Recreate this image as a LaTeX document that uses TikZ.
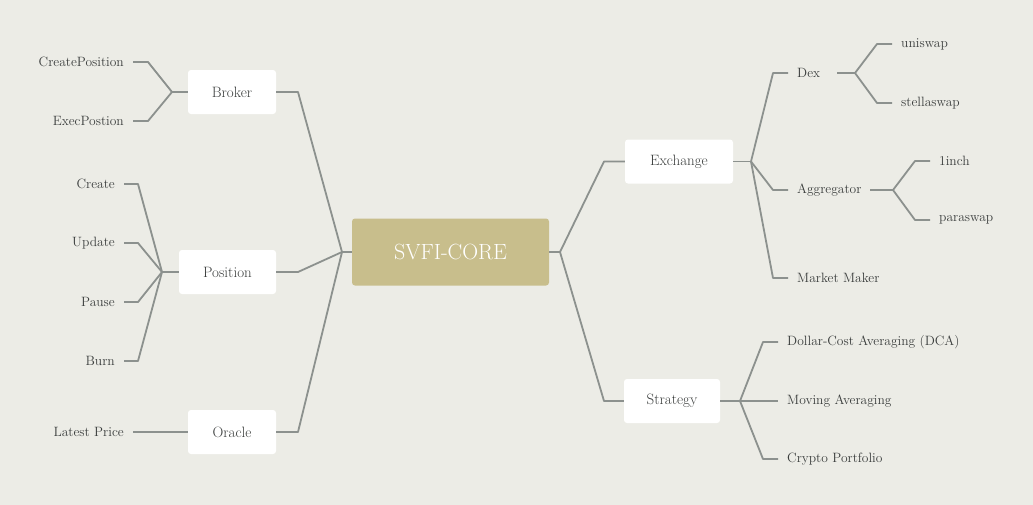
\documentclass[tikz,border=0pt]{standalone}
\usepackage{xcolor}
\definecolor{bgc}{HTML}{ECECE6}
\definecolor{linec}{HTML}{8C918E}
\definecolor{corec}{HTML}{C8BE8C}
\definecolor{textc}{HTML}{3A3D3C}
\begin{document}
\begin{tikzpicture}[x=1pt,y=-1pt,
  conn/.style={draw=linec,line width=1.8pt,line join=round},
  box/.style={fill=white,rounded corners=3pt,minimum height=44pt,inner sep=0pt,font=\fontsize{15}{17}\selectfont,text=textc},
  leafl/.style={anchor=east,inner xsep=9pt,inner ysep=2pt,font=\fontsize{13.5}{15}\selectfont,text=textc},
  leafr/.style={anchor=west,inner xsep=9pt,inner ysep=2pt,font=\fontsize{13.5}{15}\selectfont,text=textc}]
\useasboundingbox (0,0) rectangle (1033,504);
\fill[bgc] (-3,-3) rectangle (1036,507);

% core
\node[fill=corec,rounded corners=3pt,minimum width=197pt,minimum height=67pt,text=white,font=\fontsize{22}{25}\selectfont] (core) at (450.5,252) {SVFI-CORE};

% left main branches
\node[box,minimum width=88pt] (broker) at (232,92) {Broker};
\node[box,minimum width=97pt] (position) at (227.5,272) {Position};
\node[box,minimum width=88pt] (oracle) at (232,432) {Oracle};
\coordinate (lj) at (342,252);
\coordinate (be) at (298,92);
\coordinate (pe) at (298,272);
\coordinate (oe) at (298,432);
\draw[conn] (core.west) -- (lj);
\draw[conn] (lj) -- (be) -- (broker.east);
\draw[conn] (lj) -- (pe) -- (position.east);
\draw[conn] (lj) -- (oe) -- (oracle.east);

% broker children
\node[leafl] (cp) at (133,62) {CreatePosition};
\node[leafl] (ep) at (133,121) {ExecPostion};
\coordinate (bj) at (172,92);
\coordinate (cpe) at (148,62);
\coordinate (epe) at (148,121);
\draw[conn] (broker.west) -- (bj);
\draw[conn] (bj) -- (cpe) -- (cp.east);
\draw[conn] (bj) -- (epe) -- (ep.east);

% position children
\node[leafl] (create) at (124,184) {Create};
\node[leafl] (update) at (124,243) {Update};
\node[leafl] (pause) at (124,302) {Pause};
\node[leafl] (burn) at (124,361) {Burn};
\coordinate (pj) at (162,272);
\coordinate (cre) at (138,184);
\coordinate (upe) at (138,243);
\coordinate (pae) at (138,302);
\coordinate (bue) at (138,361);
\draw[conn] (position.west) -- (pj);
\draw[conn] (pj) -- (cre) -- (create.east);
\draw[conn] (pj) -- (upe) -- (update.east);
\draw[conn] (pj) -- (pae) -- (pause.east);
\draw[conn] (pj) -- (bue) -- (burn.east);

% oracle child
\node[leafl] (lp) at (133,432) {Latest Price};
\draw[conn] (oracle.west) -- (lp.east);

% right main branches
\node[box,minimum width=108pt] (exchange) at (679,161.5) {Exchange};
\node[box,minimum width=96pt] (strategy) at (672,401) {Strategy};
\coordinate (rj) at (560,252);
\coordinate (ee) at (604,161.5);
\coordinate (se) at (604,401);
\draw[conn] (core.east) -- (rj);
\draw[conn] (rj) -- (ee) -- (exchange.west);
\draw[conn] (rj) -- (se) -- (strategy.west);

% exchange children
\node[leafr,text width=31pt,align=left] (dex) at (788,73) {Dex};
\node[leafr,text width=64pt,align=left] (agg) at (788,190) {Aggregator};
\node[leafr] (mm) at (788,278) {Market Maker};
\coordinate (ej) at (751,161.5);
\coordinate (dxe) at (773,73);
\coordinate (age) at (773,190);
\coordinate (mme) at (773,278);
\draw[conn] (exchange.east) -- (ej);
\draw[conn] (ej) -- (dxe) -- (dex.west);
\draw[conn] (ej) -- (age) -- (agg.west);
\draw[conn] (ej) -- (mme) -- (mm.west);

% dex children
\node[leafr] (uni) at (892,44) {uniswap};
\node[leafr] (stella) at (892,103) {stellaswap};
\coordinate (dj) at (855,73);
\coordinate (une) at (877,44);
\coordinate (ste) at (877,103);
\draw[conn] (dex.east) -- (dj);
\draw[conn] (dj) -- (une) -- (uni.west);
\draw[conn] (dj) -- (ste) -- (stella.west);

% aggregator children
\node[leafr] (inch) at (930,161) {1inch};
\node[leafr] (para) at (930,220) {paraswap};
\coordinate (aj) at (893,190);
\coordinate (ine) at (915,161);
\coordinate (pse) at (915,220);
\draw[conn] (agg.east) -- (aj);
\draw[conn] (aj) -- (ine) -- (inch.west);
\draw[conn] (aj) -- (pse) -- (para.west);

% strategy children
\node[leafr] (dca) at (778,342) {Dollar-Cost Averaging (DCA)};
\node[leafr] (mav) at (778,401) {Moving Averaging};
\node[leafr] (cpf) at (778,459) {Crypto Portfolio};
\coordinate (sj) at (740,401);
\coordinate (dce) at (763,342);
\coordinate (cfe) at (763,459);
\draw[conn] (strategy.east) -- (sj);
\draw[conn] (sj) -- (dce) -- (dca.west);
\draw[conn] (sj) -- (mav.west);
\draw[conn] (sj) -- (cfe) -- (cpf.west);
\end{tikzpicture}
\end{document}
